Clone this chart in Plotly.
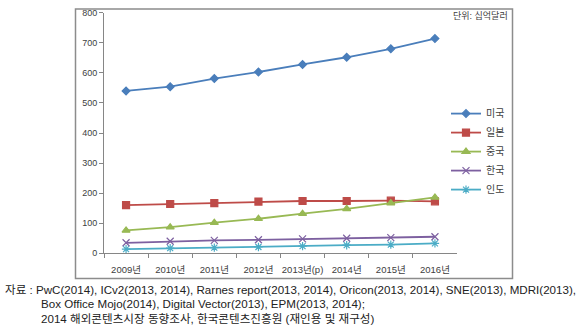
import plotly.graph_objects as go

years = ["2009년", "2010년", "2011년", "2012년", "2013년(p)", "2014년", "2015년", "2016년"]
usa = [540, 554, 581, 603, 628, 652, 680, 714]
japan = [160, 164, 167, 172, 174, 174, 175, 173]
china = [76, 87, 102, 115, 132, 148, 167, 186]
korea = [35, 40, 43, 45, 48, 50, 52, 55]
india = [14, 17, 19, 21, 24, 27, 29, 33]

series = [
    ("미국", usa, "#4A7EBB", "diamond", 6),
    ("일본", japan, "#BE4B48", "square", 7),
    ("중국", china, "#98B954", "triangle-up", 7),
    ("한국", korea, "#7D60A0", "x-thin-open", 7),
    ("인도", india, "#4BACC6", "asterisk-open", 7),
]

W, H = 580, 333
FONT = "Liberation Sans, Noto Sans CJK KR, sans-serif"

fig = go.Figure()
for name, vals, col, sym, sz in series:
    fig.add_trace(go.Scatter(
        x=years, y=vals, name=name, mode="lines+markers",
        line=dict(color=col, width=1.8),
        marker=dict(symbol=sym, size=sz, color=col, line=dict(color=col, width=1.2)),
    ))

fig.update_layout(
    width=W, height=H, margin=dict(l=0, r=0, t=0, b=0),
    paper_bgcolor="white", plot_bgcolor="white",
    font=dict(family=FONT, size=9, color="#404040"),
    showlegend=True,
    legend=dict(x=446 / W, y=1 - 97 / H, xanchor="left", yanchor="top",
                bgcolor="rgba(0,0,0,0)", font=dict(size=10, color="#404040"),
                itemwidth=30, tracegroupgap=0),
    xaxis=dict(domain=[104 / W, 457 / W], type="category", range=[-0.5, 7.5],
               showline=True, linecolor="#868686", linewidth=1,
               ticks="outside", ticklen=4, tickcolor="#868686", tickson="boundaries",
               tickangle=0, ticklabelstandoff=7,
               showgrid=False, zeroline=False, tickfont=dict(size=9.5, color="#404040")),
    yaxis=dict(domain=[1 - 256 / H, 1 - 8 / H], range=[0, 800], dtick=100,
               showline=True, linecolor="#868686", linewidth=1,
               ticks="outside", ticklen=4, tickcolor="#868686",
               showgrid=False, zeroline=False, tickfont=dict(size=9, color="#404040")),
    shapes=[dict(type="rect", xref="paper", yref="paper",
                 x0=75.5 / W, x1=512.5 / W, y0=1 - 282 / H, y1=1 - 4 / H,
                 line=dict(color="#8C8C8C", width=1.5), fillcolor="rgba(0,0,0,0)")],
    annotations=[
        dict(text="단위: 십억달러", xref="paper", yref="paper", x=510 / W, y=1 - 11 / H,
             xanchor="right", yanchor="middle", showarrow=False,
             font=dict(size=9, color="#404040")),
        dict(text="자료 : PwC(2014), ICv2(2013, 2014), Rarnes report(2013, 2014), Oricon(2013, 2014), SNE(2013), MDRI(2013),",
             xref="paper", yref="paper", x=3 / W, y=1 - 293 / H, xanchor="left", yanchor="middle",
             showarrow=False, font=dict(size=11.6, color="#222222")),
        dict(text="Box Office Mojo(2014), Digital Vector(2013), EPM(2013, 2014);",
             xref="paper", yref="paper", x=39 / W, y=1 - 308 / H, xanchor="left", yanchor="middle",
             showarrow=False, font=dict(size=11.6, color="#222222")),
        dict(text="2014 해외콘텐츠시장 동향조사, 한국콘텐츠진흥원 (재인용 및 재구성)",
             xref="paper", yref="paper", x=39 / W, y=1 - 323 / H, xanchor="left", yanchor="middle",
             showarrow=False, font=dict(size=11.6, color="#222222")),
    ],
)

fig.write_html("out.html")
